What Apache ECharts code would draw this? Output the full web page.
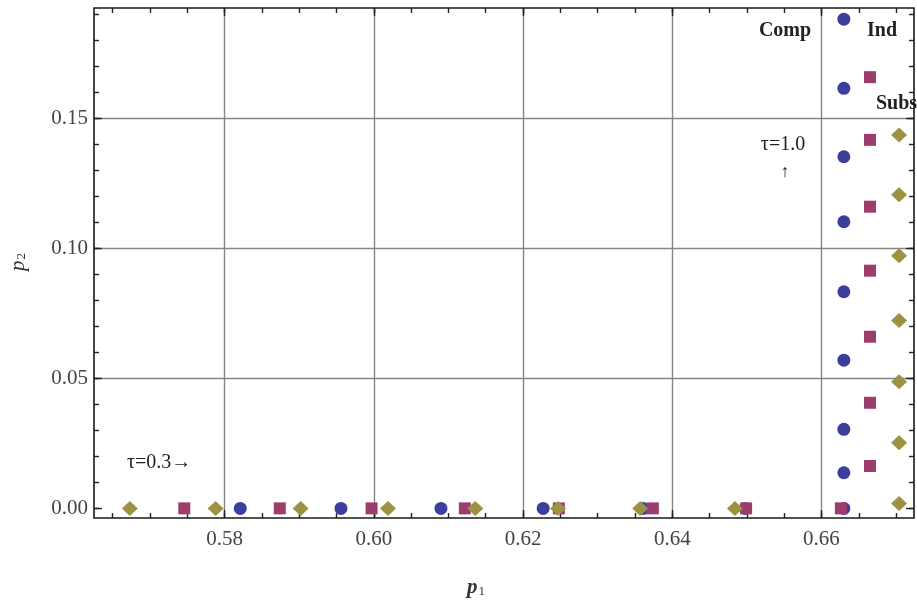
<!DOCTYPE html>
<html>
<head>
<meta charset="utf-8">
<script src="https://cdn.jsdelivr.net/npm/echarts@6/dist/echarts.min.js"></script>
<style>html,body{margin:0;padding:0;background:#fff;}#c{width:917px;height:601px;}</style>
</head>
<body>
<div id="c"></div>
<script>
// ---- data ----
const compP1 = [0.5821, 0.5956, 0.6090, 0.6227, 0.6361, 0.6498, 0.6630, 0.6630, 0.6630, 0.6630, 0.6630, 0.6630, 0.6630, 0.6630, 0.6630];
const compP2 = [0, 0, 0, 0, 0, 0, 0, 0.0137, 0.0304, 0.0570, 0.0833, 0.1102, 0.1352, 0.1615, 0.1881];
const indP1 = [0.5746, 0.5874, 0.5997, 0.6122, 0.6248, 0.6374, 0.6499, 0.6626, 0.6665, 0.6665, 0.6665, 0.6665, 0.6665, 0.6665, 0.6665];
const indP2 = [0, 0, 0, 0, 0, 0, 0, 0, 0.0163, 0.0406, 0.0660, 0.0914, 0.1160, 0.1417, 0.1658];
const subsP1 = [0.5673, 0.5788, 0.5902, 0.6019, 0.6136, 0.6247, 0.6357, 0.6484, 0.6704, 0.6704, 0.6704, 0.6704, 0.6704, 0.6704, 0.6704];
const subsP2 = [0, 0, 0, 0, 0, 0, 0, 0, 0.0019, 0.0252, 0.0487, 0.0722, 0.0971, 0.1206, 0.1436];

const xTickLabels = ['0.58', '0.60', '0.62', '0.64', '0.66'];
const yTickLabels = ['0.00', '0.05', '0.10', '0.15'];
const xMinorTicks = ['0.565', '0.670'];   // first / last minor tick
const yMinorTicks = ['0.00', '0.19'];

// ---- layout ----
const L = 94, R = 914, T = 8, B = 518, W = 917, H = 601;
const X0 = 0.5625, X1 = 0.6724, Y0 = -0.0037, Y1 = 0.1924;
const px = v => L + (v - X0) / (X1 - X0) * (R - L);
const py = v => B - (v - Y0) / (Y1 - Y0) * (B - T);
const num = s => parseFloat(s);

const xMajMin = num(xTickLabels[0]), xMajMax = num(xTickLabels[xTickLabels.length - 1]);
const yMajMin = num(yTickLabels[0]), yMajMax = num(yTickLabels[yTickLabels.length - 1]);
const xMinMin = num(xMinorTicks[0]), xMinMax = num(xMinorTicks[1]);
const yMinMin = num(yMinorTicks[0]), yMinMax = num(yMinorTicks[1]);

const FONT = '"Liberation Serif", "DejaVu Serif", serif';
const TICK = '#222';
const hidden = {show: false};

const zip = (a, b) => a.map((v, i) => [v, b[i]]);

const chart = echarts.init(document.getElementById('c'), null, {renderer: 'canvas'});

const tickAxis = (extra) => Object.assign({
  type: 'value', axisLine: {show: false, onZero: false},
  axisLabel: {show: false}, splitLine: {show: false}
}, extra);

chart.setOption({
  animation: false,
  backgroundColor: '#fff',
  grid: [
    {left: L, right: W - R, top: T, bottom: H - B, show: true, borderColor: '#1a1a1a', borderWidth: 1.6, backgroundColor: 'transparent', z: 5},
    {left: px(xMajMin), right: W - px(xMajMax), top: T, bottom: H - B},
    {left: px(xMinMin), right: W - px(xMinMax), top: T, bottom: H - B},
    {left: L, right: W - R, top: py(yMajMax), bottom: H - py(yMajMin)},
    {left: L, right: W - R, top: py(yMinMax), bottom: H - py(yMinMin)}
  ],
  xAxis: [
    {type: 'value', gridIndex: 0, min: X0, max: X1, show: false},
    tickAxis({gridIndex: 1, position: 'bottom', min: xMajMin, max: xMajMax, interval: 0.02,
      axisTick: {inside: true, length: 8, lineStyle: {color: TICK, width: 1.4}},
      axisLabel: {show: true, margin: 11, fontFamily: FONT, fontSize: 21, color: '#444', formatter: v => v.toFixed(2)},
      splitLine: {show: true, lineStyle: {color: '#858585', width: 1.4}}}),
    tickAxis({gridIndex: 1, position: 'top', min: xMajMin, max: xMajMax, interval: 0.02,
      axisTick: {inside: true, length: 8, lineStyle: {color: TICK, width: 1.4}}}),
    tickAxis({gridIndex: 2, position: 'bottom', min: xMinMin, max: xMinMax, interval: 0.005,
      axisTick: {inside: true, length: 5, lineStyle: {color: TICK, width: 1.4}}}),
    tickAxis({gridIndex: 2, position: 'top', min: xMinMin, max: xMinMax, interval: 0.005,
      axisTick: {inside: true, length: 5, lineStyle: {color: TICK, width: 1.4}}}),
    {type: 'value', gridIndex: 3, min: 0, max: 1, show: false},
    {type: 'value', gridIndex: 4, min: 0, max: 1, show: false}
  ],
  yAxis: [
    {type: 'value', gridIndex: 0, min: Y0, max: Y1, show: false},
    {type: 'value', gridIndex: 1, min: 0, max: 1, show: false},
    {type: 'value', gridIndex: 2, min: 0, max: 1, show: false},
    tickAxis({gridIndex: 3, position: 'left', min: yMajMin, max: yMajMax, interval: 0.05,
      axisTick: {inside: true, length: 8, lineStyle: {color: TICK, width: 1.4}},
      axisLabel: {show: true, margin: 6, fontFamily: FONT, fontSize: 21, color: '#444', formatter: v => v.toFixed(2)},
      splitLine: {show: true, showMinLine: false, lineStyle: {color: '#858585', width: 1.4}}}),
    tickAxis({gridIndex: 3, position: 'right', min: yMajMin, max: yMajMax, interval: 0.05,
      axisTick: {inside: true, length: 8, lineStyle: {color: TICK, width: 1.4}}}),
    tickAxis({gridIndex: 4, position: 'left', min: yMinMin, max: yMinMax, interval: 0.01,
      axisTick: {inside: true, length: 5, lineStyle: {color: TICK, width: 1.4}}}),
    tickAxis({gridIndex: 4, position: 'right', min: yMinMin, max: yMinMax, interval: 0.01,
      axisTick: {inside: true, length: 5, lineStyle: {color: TICK, width: 1.4}}})
  ],
  series: [
    {name: 'Comp', type: 'scatter', xAxisIndex: 0, yAxisIndex: 0, data: zip(compP1, compP2),
      symbol: 'circle', symbolSize: 13, itemStyle: {color: '#3c3e9e', opacity: 1}, z: 3},
    {name: 'Ind', type: 'scatter', xAxisIndex: 0, yAxisIndex: 0, data: zip(indP1, indP2),
      symbol: 'rect', symbolSize: 12, itemStyle: {color: '#9c3e6d', opacity: 1}, z: 3},
    {name: 'Subs', type: 'scatter', xAxisIndex: 0, yAxisIndex: 0, data: zip(subsP1, subsP2),
      symbol: 'diamond', symbolSize: [16, 15], itemStyle: {color: '#9d9242', opacity: 1}, z: 3}
  ],
  graphic: [
    {type: 'text', x: 785, y: 31, style: {text: 'Comp', font: 'bold 20px ' + FONT, fill: '#222', align: 'center', verticalAlign: 'middle'}},
    {type: 'text', x: 882, y: 31, style: {text: 'Ind', font: 'bold 20px ' + FONT, fill: '#222', align: 'center', verticalAlign: 'middle'}},
    {type: 'text', x: 876, y: 104, style: {text: 'Subs', font: 'bold 20px ' + FONT, fill: '#222', align: 'left', verticalAlign: 'middle'}},
    {type: 'text', x: 783, y: 145, style: {text: 'τ=1.0', font: '20px ' + FONT, fill: '#222', align: 'center', verticalAlign: 'middle'}},
    {type: 'text', x: 785, y: 172, style: {text: '↑', font: '18px ' + FONT, fill: '#222', align: 'center', verticalAlign: 'middle'}},
    {type: 'text', x: 127, y: 463, style: {text: 'τ=0.3→', font: '20px ' + FONT, fill: '#222', align: 'left', verticalAlign: 'middle'}},
    {type: 'text', x: 476, y: 588, style: {
      text: '{p|p}{s|1}', align: 'center', verticalAlign: 'middle',
      rich: {p: {font: 'italic bold 21px ' + FONT, fill: '#333'}, s: {font: '13px ' + FONT, fill: '#333', padding: [8, 0, 0, 1]}}}},
    {type: 'text', x: 18, y: 262, rotation: Math.PI / 2, style: {
      text: '{p|p}{s|2}', align: 'center', verticalAlign: 'middle',
      rich: {p: {font: 'italic 21px ' + FONT, fill: '#333'}, s: {font: '13px ' + FONT, fill: '#333', padding: [8, 0, 0, 1]}}}}
  ]
});
</script>
</body>
</html>
